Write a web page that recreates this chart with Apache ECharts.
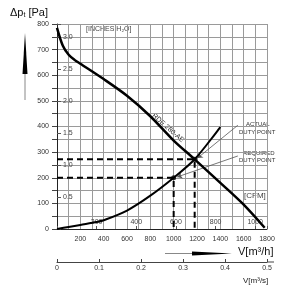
<!DOCTYPE html>
<html><head><meta charset="utf-8">
<script src="https://cdn.jsdelivr.net/npm/echarts@6/dist/echarts.min.js"></script>
<style>html,body{margin:0;padding:0;background:#fff}#c{width:301px;height:298px}</style>
</head><body><div id="c"></div>
<script>
// ---- data ----
const qFan = [0, 50, 100, 150, 200, 400, 600, 800, 1000, 1180, 1400, 1600, 1780];
const pFan = [785, 715, 680, 660, 645, 585, 520, 440, 345, 272, 180, 95, 5];
const qSys = [0, 100, 200, 340, 400, 600, 800, 1000, 1180, 1400];
const pSys = [0, 8, 16, 27, 34, 72, 130, 200, 272, 398];
const actualPoint = [1180, 272];
const requiredPoint = [1000, 200];
const qMax = 1800, pMax = 800;
const paPerInch = 249.09, m3hPerCfm = 1.699;
const inchLabels = ['0.5', '1.0', '1.5', '2.0', '2.5', '3.0'];
const cfmLabels = ['200', '400', '600', '800', '1000'];
const m3sLabels = ['0', '0.1', '0.2', '0.3', '0.4', '0.5'];
const fanName = 'RDE 280-AE';

const F = "'Liberation Sans', Arial, sans-serif";
const fan = qFan.map((q, i) => [q, pFan[i]]);
const sys = qSys.map((q, i) => [q, pSys[i]]);
const dash = {type: [6, 4], width: 2, color: '#000'};

const chart = echarts.init(document.getElementById('c'));
chart.setOption({
  animation: false,
  grid: {left: 57, right: 34, top: 24, bottom: 69, containLabel: false},
  xAxis: [
    {type: 'value', min: 0, max: qMax, interval: 100, position: 'bottom',
     axisLine: {show: true, lineStyle: {color: '#222', width: 1}},
     axisTick: {show: false},
     axisLabel: {fontFamily: F, fontSize: 7, color: '#333', margin: 7,
       formatter: v => (v > 0 && v % 200 === 0) ? String(v) : ''},
     splitLine: {show: true, lineStyle: {color: '#9a9a9a', width: 1}}},
    {type: 'value', min: 0, max: qMax / m3hPerCfm, interval: 200, position: 'bottom',
     axisLine: {show: false},
     axisTick: {show: true, inside: true, length: 3, lineStyle: {color: '#555'}},
     axisLabel: {inside: true, fontFamily: F, fontSize: 7, color: '#444', margin: 3,
       formatter: v => cfmLabels.includes(String(v)) ? String(v) : ''},
     splitLine: {show: false}},
    {type: 'value', min: 0, max: 0.5, interval: 0.1, position: 'bottom', offset: 33,
     axisLine: {show: true, lineStyle: {color: '#444', width: 1}},
     axisTick: {show: true, inside: true, length: 3, lineStyle: {color: '#444'}},
     axisLabel: {fontFamily: F, fontSize: 7, color: '#333', margin: 3,
       formatter: v => m3sLabels[Math.round(v * 10)] || ''},
     splitLine: {show: false}}
  ],
  yAxis: [
    {type: 'value', min: 0, max: pMax, interval: 50, position: 'left',
     axisLine: {show: true, lineStyle: {color: '#222', width: 1}},
     axisTick: {show: true, length: 5, lineStyle: {color: '#444'}},
     axisLabel: {fontFamily: F, fontSize: 7, color: '#333', margin: 8,
       formatter: v => v % 100 === 0 ? String(v) : ''},
     splitLine: {show: true, lineStyle: {color: '#9a9a9a', width: 1}}},
    {type: 'value', min: 0, max: pMax / paPerInch, interval: 0.5, position: 'left',
     axisLine: {show: false},
     axisTick: {show: true, inside: true, length: 4, lineStyle: {color: '#555'}},
     axisLabel: {inside: true, fontFamily: F, fontSize: 7, color: '#444', margin: 6,
       formatter: v => inchLabels.includes(v.toFixed(1)) ? v.toFixed(1) : ''},
     splitLine: {show: false}}
  ],
  series: [
    {type: 'line', name: fanName, data: fan, smooth: 0.3, symbol: 'none',
     lineStyle: {color: '#000', width: 2.5}, z: 5},
    {type: 'line', name: 'system', data: sys, smooth: 0.3, symbol: 'none',
     lineStyle: {color: '#000', width: 2}, z: 5},
    {type: 'line', data: [[0, actualPoint[1]], actualPoint, [actualPoint[0], 0]],
     symbol: 'none', lineStyle: dash, z: 4},
    {type: 'line', data: [[0, requiredPoint[1]], requiredPoint, [requiredPoint[0], 0]],
     symbol: 'none', lineStyle: dash, z: 4},
    {type: 'scatter', data: [actualPoint, requiredPoint], symbolSize: 5,
     itemStyle: {color: '#000'}, z: 6,
     markLine: {silent: true, symbol: ['none', 'arrow'], symbolSize: 5,
       lineStyle: {color: '#555', width: 0.8, type: 'solid'}, label: {show: false},
       data: [
         [{coord: [1550, 405]}, {coord: [1205, 277]}],
         [{coord: [1550, 285]}, {coord: [1030, 203]}]
       ]}}
  ],
  graphic: [
    {type: 'text', left: 10, top: 7, style: {
      text: '{a|Δp}{s|t}{a| [Pa]}', fill: '#111',
      rich: {a: {fontFamily: F, fontSize: 11, fill: '#111'},
             s: {fontFamily: F, fontSize: 7, fill: '#111', padding: [6, 0, 0, 0]}}}},
    {type: 'line', shape: {x1: 25, y1: 100, x2: 25, y2: 60}, style: {stroke: '#888', lineWidth: 1}},
    {type: 'polygon', shape: {points: [[22.5, 74], [25, 33], [27.5, 74]]}, style: {fill: '#000'}},
    {type: 'text', left: 86, top: 26, style: {text: '[INCHES H₂O]', font: '7px ' + F, fill: '#444'}},
    {type: 'text', left: 244, top: 192, style: {text: '[CFM]', font: '8px ' + F, fill: '#444'}},
    {type: 'text', left: 246, top: 121, style: {text: 'ACTUAL', font: '6px ' + F, fill: '#333'}},
    {type: 'text', left: 239, top: 129, style: {text: 'DUTY POINT', font: '6px ' + F, fill: '#333'}},
    {type: 'text', left: 243, top: 150, style: {text: 'REQUIRED', font: '6px ' + F, fill: '#333'}},
    {type: 'text', left: 239, top: 157, style: {text: 'DUTY POINT', font: '6px ' + F, fill: '#333'}},
    {type: 'text', x: 168, y: 128, rotation: -0.72, style: {text: fanName, font: '7px ' + F, fill: '#222',
      textAlign: 'center', textVerticalAlign: 'middle'}},
    {type: 'line', shape: {x1: 165, y1: 253.5, x2: 200, y2: 253.5}, style: {stroke: '#888', lineWidth: 1}},
    {type: 'polygon', shape: {points: [[192, 251.5], [232, 253.5], [192, 255.5]]}, style: {fill: '#000'}},
    {type: 'text', left: 238, top: 246, style: {text: 'V[m³/h]', font: '11px ' + F, fill: '#111'}},
    {type: 'line', shape: {x1: 267, y1: 262, x2: 274, y2: 262}, style: {stroke: '#444', lineWidth: 1}},
    {type: 'text', left: 243, top: 277, style: {text: 'V[m³/s]', font: '8px ' + F, fill: '#222'}}
  ]
});
</script></body></html>
